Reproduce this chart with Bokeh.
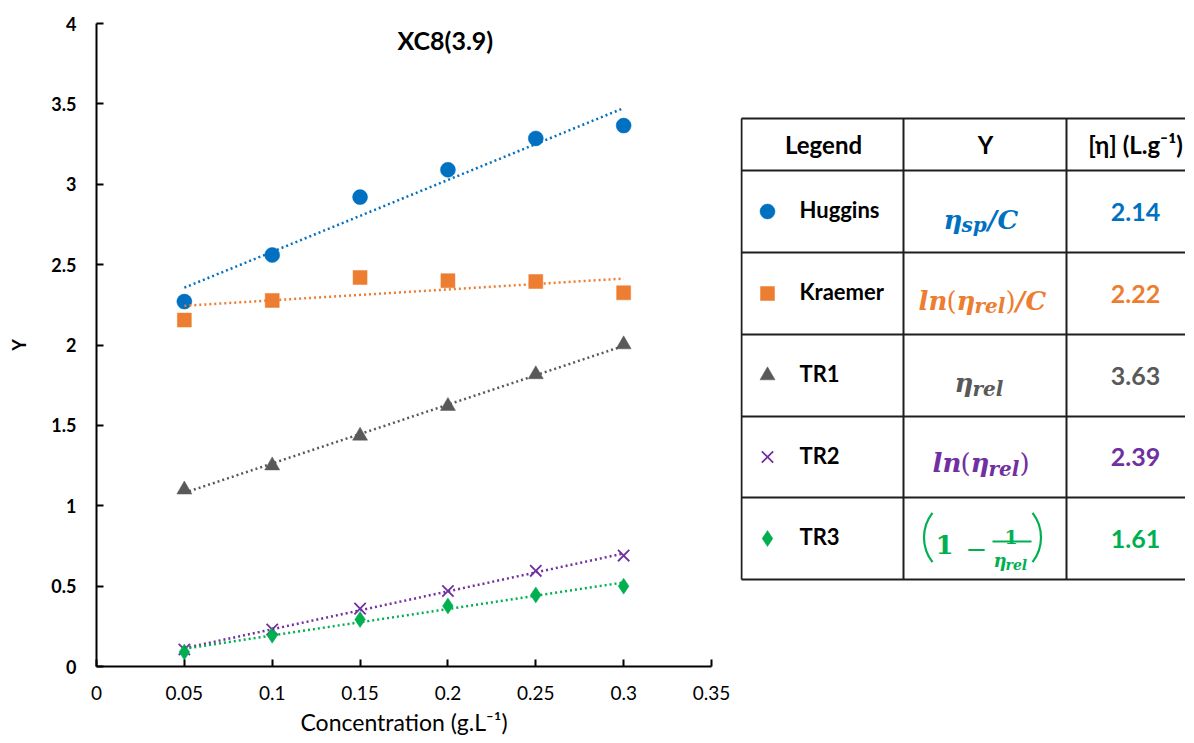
import numpy as np
from bokeh.plotting import figure
from bokeh.layouts import row
from bokeh.models import Range1d, FixedTicker, Label
from bokeh.core.properties import value
from bokeh.embed import file_html
from bokeh.resources import INLINE

# ---------------- data ----------------
conc = [0.05, 0.10, 0.15, 0.20, 0.25, 0.30]
huggins = [2.27, 2.56, 2.92, 3.09, 3.285, 3.365]
kraemer = [2.155, 2.277, 2.42, 2.40, 2.395, 2.325]
tr1 = [1.10, 1.25, 1.435, 1.62, 1.817, 2.003]
tr2 = [0.106, 0.23, 0.36, 0.47, 0.595, 0.69]
tr3 = [0.09, 0.195, 0.292, 0.377, 0.445, 0.50]

series = [huggins, kraemer, tr1, tr2, tr3]
series_names = ["Huggins", "Kraemer", "TR1", "TR2", "TR3"]
intrinsic_visc = ["2.14", "2.22", "3.63", "2.39", "1.61"]
colors = ["#0070C0", "#ED7D31", "#595959", "#7030A0", "#00B050"]
markers = ["circle", "square", "triangle", "x", "diamond"]
marker_sizes = [15, 14, 15, 16, 16]

x_ticks = [0, 0.05, 0.1, 0.15, 0.2, 0.25, 0.3, 0.35]
x_tick_labels = ["0", "0.05", "0.1", "0.15", "0.2", "0.25", "0.3", "0.35"]
y_ticks = [0, 0.5, 1, 1.5, 2, 2.5, 3, 3.5, 4]
y_tick_labels = ["0", "0.5", "1", "1.5", "2", "2.5", "3", "3.5", "4"]

title_text = "XC8(3.9)"
x_label = "Concentration (g.L\u207b\u00b9)"
y_label = "Y"
header = ["Legend", "Y", "[\u03b7] (L.g\u207b\u00b9)"]

FONT = "Lato"
MATH = "DejaVu Serif"

H = 742
TOP = 23
BOTTOM = 76

# ---------------- main chart ----------------
p = figure(width=740, height=H, x_range=Range1d(0, 0.35), y_range=Range1d(0, 4),
           output_backend="svg", toolbar_location=None,
           min_border_left=96, min_border_right=29, min_border_top=TOP, min_border_bottom=BOTTOM)
p.outline_line_color = None
p.grid.visible = False

p.xaxis.ticker = FixedTicker(ticks=x_ticks)
p.yaxis.ticker = FixedTicker(ticks=y_ticks)
p.xaxis.major_label_overrides = {t: l for t, l in zip(x_ticks, x_tick_labels)}
p.yaxis.major_label_overrides = {t: l for t, l in zip(y_ticks, y_tick_labels)}
for ax in (p.xaxis, p.yaxis):
    ax.axis_line_width = 2
    ax.axis_line_color = "black"
    ax.major_tick_line_width = 2
    ax.major_tick_line_color = "black"
    ax.major_tick_in = 7
    ax.major_tick_out = 0
    ax.minor_tick_line_color = None
    ax.major_label_text_font = FONT
    ax.major_label_text_color = "black"
    ax.axis_label_text_font = FONT
    ax.axis_label_text_color = "black"

p.xaxis.major_label_text_font_size = "19px"
p.xaxis.major_label_text_font_style = "normal"
p.xaxis.major_label_standoff = 19
p.xaxis.axis_label = x_label
p.xaxis.axis_label_text_font_size = "23px"
p.xaxis.axis_label_text_font_style = "normal"
p.xaxis.axis_label_standoff = 5

p.yaxis.major_label_text_font_size = "18px"
p.yaxis.major_label_text_font_style = "bold"
p.yaxis.major_label_standoff = 20
p.yaxis.axis_label = y_label
p.yaxis.axis_label_text_font_size = "18px"
p.yaxis.axis_label_text_font_style = "bold"
p.yaxis.axis_label_standoff = 18

for ys, c, m, s in zip(series, colors, markers, marker_sizes):
    if m == "x":
        p.scatter(conc, ys, marker=m, size=s, line_color=c, line_width=1.8)
    else:
        p.scatter(conc, ys, marker=m, size=s, fill_color=c, line_color=c, line_width=0.5)

for ys, c in zip(series, colors):
    k, b = np.polyfit(conc, ys, 1)
    xs = [conc[0], conc[-1]]
    p.line(xs, [k * x + b for x in xs], line_color=c, line_width=2.5, line_dash="2 3")

p.add_layout(Label(x=0.1985, y=3.9, text=title_text, text_align="center", text_baseline="middle",
                   text_font=FONT, text_font_style="bold", text_font_size="25px", text_color="black"))

# ---------------- table (coordinates in page pixels) ----------------
t = figure(width=445, height=H, x_range=Range1d(741, 1186), y_range=Range1d(667, 24),
           output_backend="svg", toolbar_location=None,
           min_border_left=0, min_border_right=0, min_border_top=TOP, min_border_bottom=BOTTOM,
           x_axis_location=None, y_axis_location=None)
t.outline_line_color = None
t.grid.visible = False

col_edges = [742, 904, 1067, 1210]
row_edges = [119, 171, 253, 335, 417, 498, 580]
border = "#1e1e1e"
t.segment(x0=[col_edges[0]] * len(row_edges), x1=[col_edges[-1]] * len(row_edges),
          y0=row_edges, y1=row_edges, line_color=border, line_width=2)
t.segment(x0=col_edges, x1=col_edges, y0=[row_edges[0]] * len(col_edges),
          y1=[row_edges[-1]] * len(col_edges), line_color=border, line_width=2)

header_x = [824, 986, 1136]
header_y = (row_edges[0] + row_edges[1]) / 2
t.text(x=header_x, y=[header_y] * 3, text=header, text_align="center", text_baseline="middle",
       text_font=value(FONT), text_font_style="bold", text_font_size="24px", text_color="black")

centers = [(row_edges[i] + row_edges[i + 1]) / 2 for i in range(1, len(row_edges) - 1)]
for cy, c, m, s in zip(centers, colors, markers, marker_sizes):
    if m == "x":
        t.scatter([768], [cy], marker=m, size=s, line_color=c, line_width=1.8)
    else:
        t.scatter([768], [cy], marker=m, size=s, fill_color=c, line_color=c, line_width=0.5)

t.text(x=[800] * 5, y=[cy - 2 for cy in centers], text=series_names, text_align="left",
       text_baseline="middle", text_font=value(FONT), text_font_style="bold",
       text_font_size="22px", text_color="black")
t.text(x=[1136] * 5, y=centers, text=intrinsic_visc, text_align="center", text_baseline="middle",
       text_font=value(FONT), text_font_style="bold", text_font_size="25px", text_color=colors)

# formula pieces: text, left x, baseline y, size, color index, style
BI = "bold italic"
pieces = [
    ("\u03b7", 944, 220, 26, 0, BI), ("sp", 962, 225, 20, 0, BI),
    ("/", 988, 220, 26, 0, BI), ("C", 998, 220, 26, 0, BI),
    ("ln", 919, 301, 26, 1, BI), ("(", 947, 301, 26, 1, "normal"),
    ("\u03b7", 957, 301, 26, 1, BI), ("rel", 975, 306, 20, 1, BI),
    (")", 1006, 301, 26, 1, "normal"), ("/", 1016, 301, 26, 1, BI),
    ("C", 1026, 301, 26, 1, BI),
    ("\u03b7", 955, 383, 26, 2, BI), ("rel", 973, 389, 20, 2, BI),
    ("ln", 933, 463, 26, 3, BI), ("(", 961, 463, 26, 3, "normal"),
    ("\u03b7", 971, 463, 26, 3, BI), ("rel", 989, 469, 20, 3, BI),
    (")", 1020, 463, 26, 3, "normal"),
    ("1", 936, 545, 26, 4, "bold"), ("\u2212", 966, 549, 26, 4, "normal"),
    ("1", 1005, 537, 19, 4, "bold"),
    ("\u03b7", 994, 561, 18, 4, BI), ("rel", 1006, 565, 14, 4, BI),
]
for txt, px, py, sz, ci, st in pieces:
    t.text(x=[px], y=[py], text=[txt], text_align="left", text_baseline="alphabetic",
           text_font=value(MATH), text_font_style=st, text_font_size=f"{sz}px", text_color=colors[ci])
# fraction bar and large parentheses of the TR3 expression
t.segment(x0=[993], x1=[1032], y0=[542], y1=[542], line_color=colors[4], line_width=2)
t.arc(x=[964.5, 1001.5], y=[538, 538], radius=40, start_angle=[np.radians(142), np.radians(-38)],
      end_angle=[np.radians(218), np.radians(38)], line_color=colors[4], line_width=2.2)

layout = row(p, t)
open("out.html", "w").write(file_html(layout, INLINE))
